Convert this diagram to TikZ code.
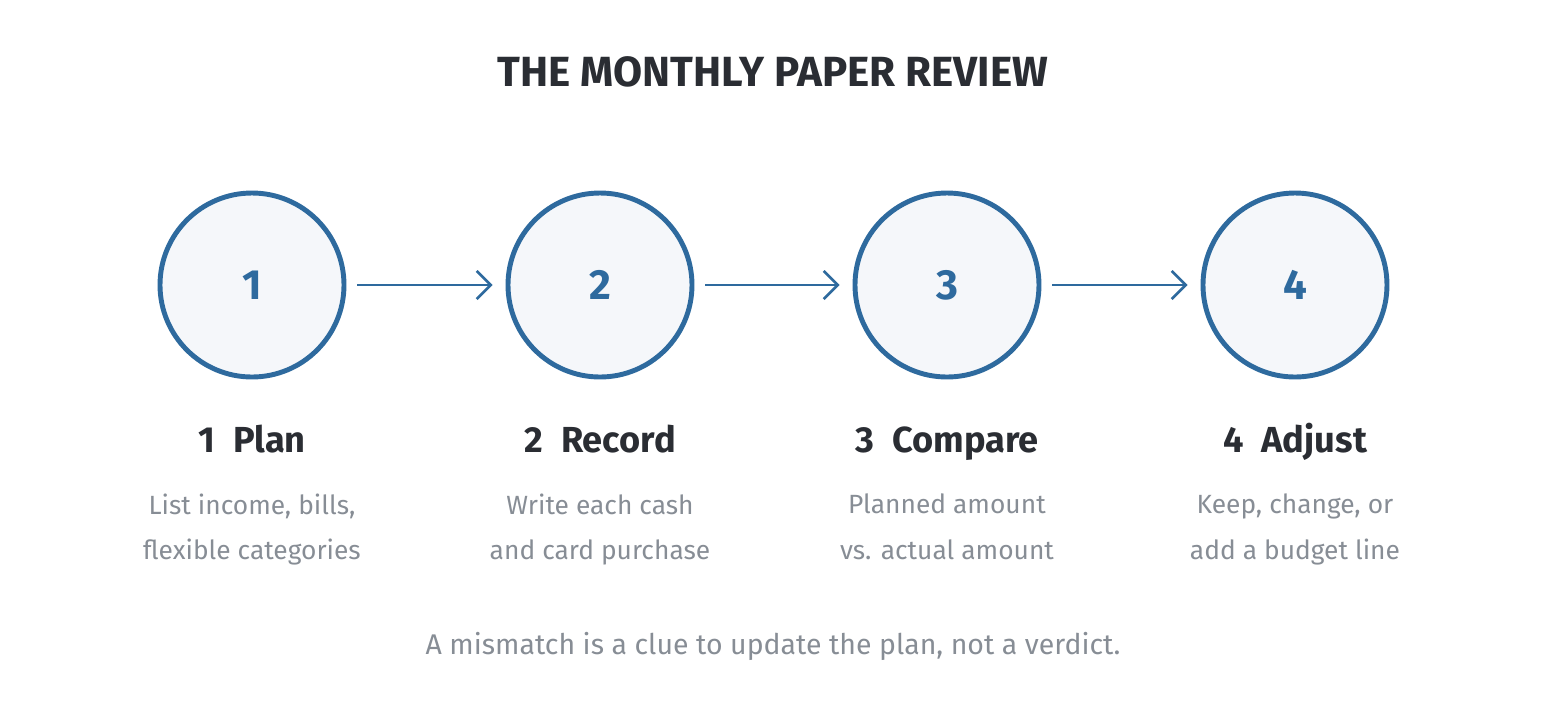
\documentclass[tikz,border=0pt]{standalone}
\usepackage{fontspec}
\setmainfont{Fira Sans}
\usetikzlibrary{arrows.meta}
\definecolor{stepblue}{HTML}{2E6A9E}
\definecolor{stepfill}{HTML}{F5F7FA}
\definecolor{inkdark}{HTML}{2A2D33}
\definecolor{inkgray}{HTML}{878D95}
\tikzset{
  stepcircle/.style={circle,draw=stepblue,fill=stepfill,line width=1.4pt,minimum size=1.84cm,
    text=stepblue,font=\fontsize{12}{14}\selectfont\bfseries},
  steplabel/.style={anchor=base,text=inkdark,font=\fontsize{10.3}{12}\selectfont\bfseries},
  stepnote/.style={anchor=north,inner sep=0pt,text=inkgray,align=center,font=\fontsize{7.5}{13}\selectfont},
  flow/.style={stepblue,line width=0.75pt,-{Straight Barb[length=4pt,width=8pt]},
    shorten <=0.11cm,shorten >=0.13cm}
}
\begin{document}
\begin{tikzpicture}
\useasboundingbox (0,0) rectangle (15.46,7.00);
\node[anchor=base,text=inkdark,font=\fontsize{12}{14}\selectfont\bfseries] (title) at (7.73,6.14) {THE MONTHLY PAPER REVIEW};
% the four steps
\node[stepcircle] (s1) at (2.52,4.15) {1};
\node[stepcircle] (s2) at (6.00,4.15) {2};
\node[stepcircle] (s3) at (9.47,4.15) {3};
\node[stepcircle] (s4) at (12.95,4.15) {4};
\draw[flow] (s1) -- (s2);
\draw[flow] (s2) -- (s3);
\draw[flow] (s3) -- (s4);
% labels and notes
\node[steplabel] (l1) at (2.52,2.48) {1\enspace Plan};
\node[steplabel] (l2) at (6.00,2.48) {2\enspace Record};
\node[steplabel] (l3) at (9.47,2.48) {3\enspace Compare};
\node[steplabel] (l4) at (12.95,2.48) {4\enspace Adjust};
\node[stepnote] (n1) at (2.52,2.07) {List income, bills,\\flexible categories};
\node[stepnote] (n2) at (6.00,2.07) {Write each cash\\and card purchase};
\node[stepnote] (n3) at (9.47,2.07) {Planned amount\\vs. actual amount};
\node[stepnote] (n4) at (12.95,2.07) {Keep, change, or\\add a budget line};
\node[anchor=base,text=inkgray,font=\fontsize{8.1}{10}\selectfont] (foot) at (7.73,0.46) {A mismatch is a clue to update the plan, not a verdict.};
\end{tikzpicture}
\end{document}
